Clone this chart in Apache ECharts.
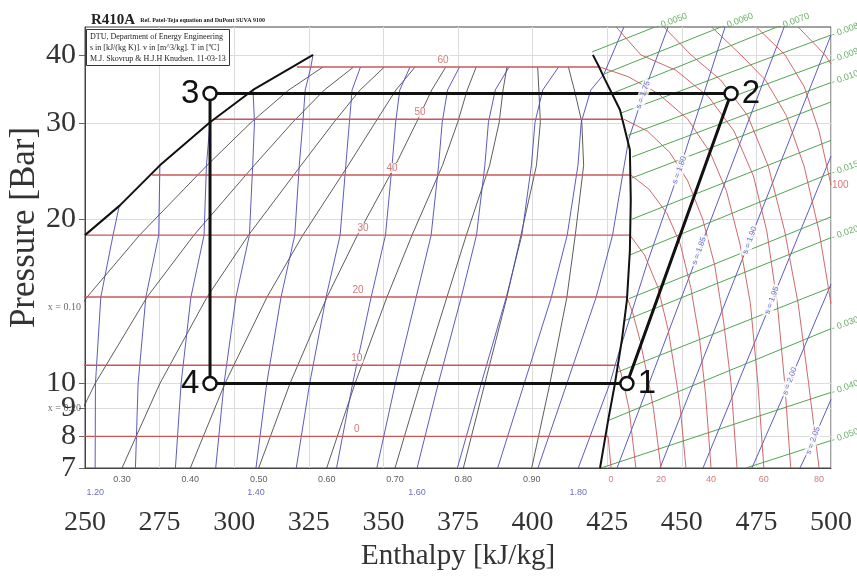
<!DOCTYPE html>
<html>
<head>
<meta charset="utf-8">
<title>R410A log p-h diagram</title>
<script src="https://cdn.jsdelivr.net/npm/echarts@6/dist/echarts.min.js"></script>
<style>
  html, body { margin: 0; padding: 0; background: #fff; }
  #chart { width: 857px; height: 585px; }
</style>
</head>
<body>
<div id="chart"></div>
<script>
// values: h in kJ/kg, p in bar
const pressureTicks = [7, 8, 9, 10, 20, 30, 40];

const satLiquid = [[250, 18.7], [261.7, 21.2], [275.1, 25.1], [291.9, 30.1], [306.3, 34.5], [319.4, 38], [326.4, 40]];
const satVapor = [[420.2, 40], [422.3, 38], [424.3, 36], [426.0, 34.5], [429.3, 31.7], [432.6, 26.8], [432.9, 21.7],
  [432.6, 17.5], [431.6, 14.2], [429.9, 12.0], [427.6, 10], [425.3, 8.55], [422.6, 7]];

const cycleNames = ['1', '2', '3', '4'];
const cycleH = [431.6, 466.5, 291.9, 291.9];
const cycleP = [10, 34, 34, 10];

// isotherms inside the dome
const domeTemps = [0, 10, 20, 30, 40, 50, 60];
const domeP = [8.0, 10.8, 14.4, 18.7, 24.1, 30.5, 38.0];
const domeLiquidH = [198.7, 214.5, 230.6, 250, 272.5, 293, 321];
const domeVaporH = [425.3, 428.9, 431.6, 432.6, 432.9, 430.3, 422.6];
const domeLabelH = [341.1, 341.1, 341.5, 343.2, 352.9, 362.3, 370.0];

// isotherms in the superheated region
const supTemps = [0, 10, 20, 30, 40, 50, 60, 70, 80, 90, 100, 110];
const supIsotherms = [
  [[425.3, 8.0], [426.3, 7]],
  [[428.9, 10.8], [430.5, 10], [432.3, 9], [434.6, 7]],
  [[431.6, 14.4], [433.5, 13.5], [436, 12], [439, 10], [440.5, 9], [443, 7]],
  [[432.6, 18.7], [437.5, 17.2], [442, 15], [445.5, 12.5], [448.3, 10], [449.5, 9], [451.4, 7]],
  [[432.9, 24.1], [439, 22.7], [445, 20.5], [449.5, 18], [453, 15], [456, 12], [458, 9.5], [459.8, 7]],
  [[430.6, 30.5], [438.5, 29], [446, 26.5], [452, 23.5], [457, 20], [461, 16.5], [464, 13], [466.5, 10], [468.5, 7]],
  [[422.6, 38], [432, 36.5], [442, 34], [452, 30.5], [459.5, 26.5], [465, 22.5], [469.5, 18], [473, 14], [475.5, 10], [477.5, 7]],
  [[428, 45], [436.3, 40], [448, 37.5], [459, 33.5], [467.5, 29], [474, 24], [478.5, 19], [482, 14], [484.5, 10], [486.5, 7]],
  [[444, 45], [453.1, 40], [463, 36], [472, 31], [479, 25], [484.5, 19], [489, 14], [492.5, 10], [496, 7]],
  [[460, 45], [469.8, 40], [478, 36], [485, 31], [491, 25], [496, 19], [500, 14]],
  [[475, 45], [484.6, 40], [491, 35], [496, 29], [500, 23.1]],
  [[489, 45], [498, 40], [500, 38.5]]
];
const supLabelT = ['0', '20', '40', '60', '80'];
const supLabelH = [426.3, 443, 459.8, 477.5, 496];

// quality lines x = 0.1 ... 0.9
const qualityValues = [0.1, 0.2, 0.3, 0.4, 0.5, 0.6, 0.7, 0.8, 0.9];
const qualityP = [7, 10, 14.4, 18.7, 25.1, 30.1, 34.5, 38];
const qualityH = [
  [216.6, 231.6, 250.7, 268.3, 290.9, 305.7, 318.3, 329.7],
  [239.5, 253.4, 270.8, 286.5, 306.7, 319.6, 330.2, 340.0],
  [262.4, 275.1, 290.9, 304.8, 322.4, 333.4, 342.2, 350.3],
  [285.3, 296.9, 311.0, 323.0, 338.2, 347.3, 354.2, 360.6],
  [308.2, 318.7, 331.1, 341.3, 354.0, 361.1, 366.2, 370.9],
  [331.0, 340.5, 351.2, 359.6, 369.8, 374.9, 378.1, 381.1],
  [353.9, 362.3, 371.3, 377.8, 385.6, 388.8, 390.1, 391.4],
  [376.8, 384.0, 391.4, 396.1, 401.3, 402.6, 402.1, 401.7],
  [399.7, 405.8, 411.5, 414.3, 417.1, 416.5, 414.0, 412.0]
];
const qualityLeftNames = ['x = 0.10', 'x = 0.20'];
const qualityLeftP = [13.8, 9.0];

// isentropes s = 1.20 ... 2.05
const entropyValues = [1.20, 1.25, 1.30, 1.35, 1.40, 1.45, 1.50, 1.55, 1.60, 1.65, 1.70, 1.75, 1.80, 1.85, 1.90, 1.95, 2.00, 2.05];
const isentropes = [
  [[253.4, 7], [253.5, 10], [255.3, 14.4], [259.4, 18.7], [261.5, 21.2]],
  [[266.9, 7], [267.8, 10], [270.4, 14.4], [274.7, 18.7], [275.1, 25.1]],
  [[280.3, 7], [282.2, 10], [285.5, 14.4], [289.9, 18.7], [290.7, 25.1], [291.9, 30.1]],
  [[293.8, 7], [296.6, 10], [300.6, 14.4], [305.1, 18.7], [306.2, 25.1], [306.8, 30.1], [306.3, 34.5]],
  [[307.3, 7], [310.9, 10], [315.7, 14.4], [320.3, 18.7], [321.8, 25.1], [323.0, 30.1], [323.8, 34.5], [325.7, 38], [326.4, 40]],
  [[320.8, 7], [325.3, 10], [330.8, 14.4], [335.5, 18.7], [337.4, 25.1], [338.6, 30.1], [339.5, 34.5], [342.3, 38]],
  [[334.3, 7], [339.7, 10], [345.9, 14.4], [350.7, 18.7], [352.9, 25.1], [354.1, 30.1], [355.5, 34.5], [358.9, 38]],
  [[347.8, 7], [354.0, 10], [361.0, 14.4], [366.0, 18.7], [368.5, 25.1], [369.7, 30.1], [371.5, 34.5], [375.5, 38]],
  [[361.3, 7], [368.4, 10], [376.1, 14.4], [381.2, 18.7], [384.0, 25.1], [385.2, 30.1], [387.5, 34.5], [392.1, 38]],
  [[374.8, 7], [382.8, 10], [391.2, 14.4], [396.4, 18.7], [399.6, 25.1], [400.8, 30.1], [403.4, 34.5], [408.7, 38]],
  [[388.3, 7], [397.2, 10], [406.3, 14.4], [411.6, 18.7], [415.2, 25.1], [416.3, 30.1], [419.5, 34.5], [423.8, 36.8], [430.6, 45]],
  [[401.8, 7], [411.5, 10], [421.3, 14.4], [426.8, 18.7], [430.7, 25.1], [432.2, 28], [437.0, 33.8], [445.4, 45]],
  [[415.3, 7], [425.9, 10], [428.5, 11.2], [438.7, 16.8], [449.2, 24.6], [464.5, 45]],
  [[428.3, 7], [455.8, 17.5], [484.3, 45]],
  [[442.7, 7], [472.8, 18.3], [500, 43.5]],
  [[457.1, 7], [480.2, 14.2], [500, 26.1]],
  [[473.5, 7], [486.2, 10.1], [500, 15.2]],
  [[489.6, 7], [494.0, 7.86], [500, 9.35]]
];
const entropyBottomNames = ['1.20', '1.40', '1.60', '1.80'];
const entropyBottomH = [253.4, 307.3, 361.3, 415.3];
const entropyTagNames = ['s = 1.75', 's = 1.80', 's = 1.85', 's = 1.90', 's = 1.95', 's = 2.00', 's = 2.05'];
const entropyTagH = [437.0, 449.2, 455.8, 472.8, 480.2, 486.2, 494.0];
const entropyTagP = [33.8, 24.6, 17.5, 18.3, 14.2, 10.1, 7.86];

// isochores (specific volume, m3/kg); unlabelled ones have an empty name
const volumeNames = ['0.0050', '0.0060', '0.0070', '0.0080', '0.0090', '0.010', '', '', '0.015', '', '0.020', '', '0.030', '0.040', '0.050'];
const isochores = [
  [[419.9, 40.5], [441.0, 45]],
  [[423.9, 36.9], [463.1, 45]],
  [[426.6, 34.0], [481.9, 45]],
  [[429.6, 31.3], [500, 43.5]],
  [[432.0, 28.5], [500, 39.1]],
  [[433.3, 26.0], [500, 35.6]],
  [[433.3, 23.8], [500, 32.8]],
  [[433.3, 20.0], [500, 27.9]],
  [[432.6, 17.2], [500, 24.3]],
  [[432.3, 14.3], [500, 20.2]],
  [[431.0, 13.05], [500, 18.5]],
  [[428.6, 10.5], [500, 15.0]],
  [[425.3, 8.55], [500, 12.6]],
  [[422.9, 7], [500, 9.63]],
  [[471.5, 7], [500, 7.86]]
];

const serif = 'Liberation Serif';
const red = '#c9575a';
const blue = '#4a4ab8';
const green = '#3d9a3d';

function poly(data, color, width, z) {
  return {
    type: 'line', data: data, symbol: 'none', silent: true, z: z,
    lineStyle: { color: color, width: width }
  };
}

function texts(points, names, label, z) {
  return {
    type: 'scatter', symbolSize: 0, silent: true, clip: false, z: z || 20,
    data: points.map((pt, i) => ({ value: pt, label: { formatter: names[i] } })),
    label: Object.assign({ show: true }, label)
  };
}

const series = [];

// quality lines
qualityH.forEach(row => {
  series.push(poly(row.map((h, i) => [h, qualityP[i]]), '#333', 0.8, 3));
});

// isentropes
isentropes.forEach(line => series.push(poly(line, blue, 0.9, 4)));

// isochores
isochores.forEach(line => series.push(poly(line, green, 0.9, 4)));

// isotherms
domeTemps.forEach((t, i) => {
  series.push(poly([[domeLiquidH[i], domeP[i]], [domeVaporH[i], domeP[i]]], red, 1.4, 5));
});
supIsotherms.forEach(line => series.push(poly(line, red, 0.9, 5)));

// saturation dome
series.push(poly(satLiquid, '#111', 2, 8));
series.push(poly(satVapor, '#111', 2, 8));

// cycle
const cyclePts = cycleH.map((h, i) => [h, cycleP[i]]);
series.push({
  type: 'line', silent: true, z: 10,
  data: cyclePts.concat([cyclePts[0]]).map((pt, i) => ({
    value: pt,
    symbol: i < 4 ? 'circle' : 'none',
    label: { show: i < 4, formatter: cycleNames[i % 4], position: i === 2 || i === 3 ? 'left' : 'right' }
  })),
  symbolSize: 13,
  itemStyle: { color: '#fff', borderColor: '#111', borderWidth: 2.5 },
  lineStyle: { color: '#111', width: 3 },
  label: { fontSize: 33, fontFamily: 'Liberation Sans', color: '#111', distance: 3 }
});

// labels
series.push(texts(domeTemps.map((t, i) => [domeLabelH[i], domeP[i]]), domeTemps.map(String),
  { position: 'top', distance: 2, fontSize: 10, color: red, backgroundColor: '#fff', padding: [0, 1] }, 12));
series.push(texts(qualityValues.slice(2).map((q, i) => [qualityH[i + 2][0], 7]), qualityValues.slice(2).map(q => q.toFixed(2)),
  { position: 'bottom', distance: 7, fontSize: 9, color: '#333' }));
series.push(texts(entropyBottomH.map(h => [h, 7]), entropyBottomNames,
  { position: 'bottom', distance: 20, fontSize: 9, color: blue }));
series.push(texts(supLabelH.map(h => [h, 7]), supLabelT,
  { position: 'bottom', distance: 7, fontSize: 9, color: red }));
series.push(texts([[500, 23.1]], ['100'], { position: 'right', distance: 1, fontSize: 10, color: red }));
series.push(texts(qualityLeftP.map(p => [250, p]), qualityLeftNames,
  { position: 'left', distance: 4, fontSize: 10, color: '#444', fontFamily: serif }));
series.push(texts(entropyTagH.map((h, i) => [h, entropyTagP[i]]), entropyTagNames,
  { position: 'inside', rotate: 70, fontSize: 8, color: blue, backgroundColor: '#fff', padding: [1, 2] }, 15));
const volLabelPts = [], volLabelNames = [];
isochores.forEach((line, i) => {
  if (volumeNames[i]) { volLabelPts.push(line[line.length - 1]); volLabelNames.push('- ' + volumeNames[i]); }
});
series.push(texts(volLabelPts, volLabelNames,
  { position: 'right', distance: 1, rotate: 20, fontSize: 9, color: green }));

const option = {
  animation: false,
  backgroundColor: '#fff',
  title: [
    {
      left: 86, top: 6,
      text: '{a|R410A} {b|Ref. Patel-Teja equation and DuPont SUVA 9100}',
      textStyle: {
        rich: {
          a: { fontFamily: serif, fontSize: 15, fontWeight: 'bold', color: '#222' },
          b: { fontFamily: serif, fontSize: 6, color: '#222' }
        }
      }
    },
    {
      left: 86, top: 29,
      text: 'DTU, Department of Energy Engineering\ns in [kJ/(kg K)]. v in [m^3/kg]. T in [ºC]\nM.J. Skovrup & H.J.H Knudsen. 11-03-13',
      borderColor: '#333', borderWidth: 1, padding: [2, 4],
      backgroundColor: '#fff',
      textStyle: { fontFamily: serif, fontSize: 8, lineHeight: 11, fontWeight: 'normal', color: '#222', align: 'center' }
    }
  ],
  grid: {
    left: 85, right: 26, top: 27, bottom: 117,
    outerBoundsMode: 'none',
    show: true, borderColor: '#444', borderWidth: 1
  },
  xAxis: {
    type: 'value', min: 250, max: 500, interval: 25,
    name: 'Enthalpy [kJ/kg]', nameLocation: 'middle', nameGap: 74, nameMoveOverlap: false,
    nameTextStyle: { fontFamily: serif, fontSize: 29, color: '#333' },
    axisLine: { lineStyle: { color: '#444' } },
    axisTick: { show: false },
    axisLabel: { fontFamily: serif, fontSize: 28, color: '#333', margin: 41 },
    splitLine: { lineStyle: { color: '#dcdcdc' } }
  },
  yAxis: {
    type: 'log', logBase: 10, min: 7, max: 45,
    name: 'Pressure [Bar]', nameLocation: 'middle', nameGap: 43, nameMoveOverlap: false,
    nameTextStyle: { fontFamily: serif, fontSize: 35, color: '#333', padding: [0, 0, 0, 40] },
    axisLine: { show: true, lineStyle: { color: '#444' } },
    axisTick: { show: true, customValues: pressureTicks, length: 6, lineStyle: { color: '#666' } },
    axisLabel: { customValues: pressureTicks, fontFamily: serif, fontSize: 30, color: '#333', margin: 9 },
    splitLine: { show: true, lineStyle: { color: '#dcdcdc' } }
  },
  series: series
};

const chart = echarts.init(document.getElementById('chart'));
chart.setOption(option);
</script>
</body>
</html>
